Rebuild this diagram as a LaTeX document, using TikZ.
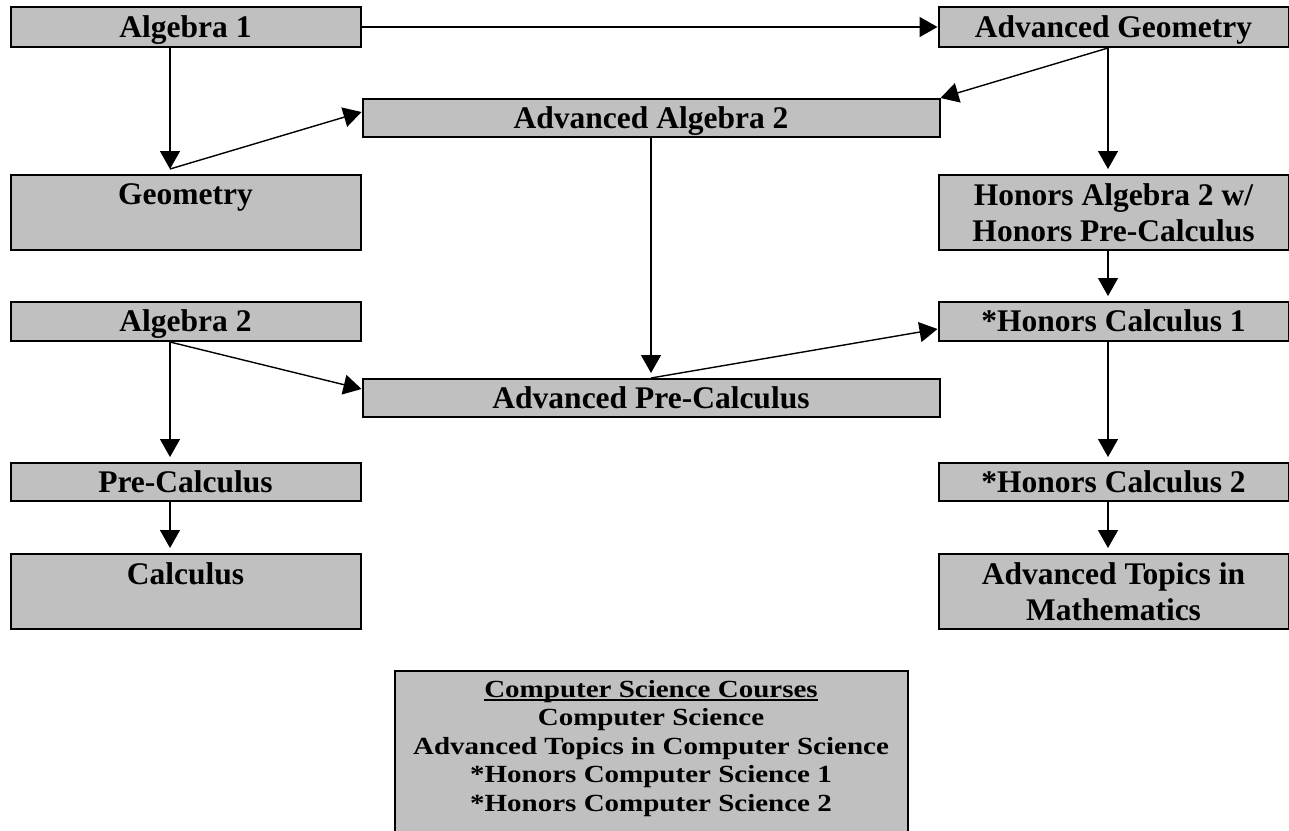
\documentclass[tikz,border=0pt]{standalone}
\usepackage{fontspec}
\setmainfont{Liberation Serif}
\usepackage{graphicx}
\usepackage{tikz}
\usetikzlibrary{shapes,arrows.meta,positioning}
\definecolor{boxgray}{RGB}{192,192,192}
\newcommand{\csline}[1]{\scalebox{1}[0.85]{#1}}
\newcommand{\csunder}[1]{\setbox0\hbox{#1}\rlap{\rule[-4pt]{\wd0}{1.8pt}}\box0}

\begin{document}
\begin{tikzpicture}[
			x=1pt, y=-1pt,
			box/.style={draw, line width=2pt, fill=boxgray, minimum width=350pt, inner sep=0pt, align=center, font=\fontsize{31.5}{36}\selectfont\bfseries},
			onerow/.style={box, minimum height=39pt, text height=28pt, text depth=8pt},
			tworow/.style={box, minimum height=75pt},
			wide/.style={minimum width=577pt},
			cstext/.style={inner sep=0pt, align=center, font=\fontsize{29}{28.5}\selectfont\bfseries},
			lx/.style={xshift=-15.5pt},
			rx/.style={xshift=-5.5pt},
			tipgap/.style={yshift=5pt},
			arrow/.style={-{Triangle[length=18pt,width=20pt]}, line width=1.4pt}
		]
		\useasboundingbox (0,0) rectangle (1289,830);

		% left column
		\node[onerow, minimum height=40pt] (alg1) at (185.5,27) {Algebra 1};
		\node[tworow, below=126pt of alg1] (geo) {Geometry\\\mbox{}};
		\node[onerow, below=50pt of geo] (alg2) {Algebra 2};
		\node[onerow, minimum height=38pt, below=120pt of alg2] (precalc) {Pre-Calculus};
		\node[tworow, below=51pt of precalc] (calc) {Calculus\\\mbox{}};

		% right column
		\node[onerow, minimum height=40pt, right=576pt of alg1] (ageo) {Advanced Geometry};
		\node[tworow, right=576pt of geo] (halg2) {Honors Algebra 2 w/\\Honors Pre-Calculus};
		\node[onerow, right=576pt of alg2] (hcalc1) {*Honors Calculus 1};
		\node[onerow, minimum height=38pt, right=576pt of precalc] (hcalc2) {*Honors Calculus 2};
		\node[tworow, right=576pt of calc] (atopics) {Advanced Topics in\\Mathematics};

		% middle
		\node[onerow, wide, minimum height=38pt, below right=50pt and 0pt of alg1] (aalg2) {Advanced Algebra 2};
		\node[onerow, wide, minimum height=38pt, below=240pt of aalg2] (apre) {Advanced Pre-Calculus};

		% computer science
		\node[draw, line width=2pt, fill=boxgray, minimum width=513pt, minimum height=175pt, below=252pt of apre] (cs) {};
		\node[cstext, below=10pt of cs.north] (cslist) {\csline{\csunder{Computer Science Courses}}\\
			\csline{Computer Science}\\
			\csline{Advanced Topics in Computer Science}\\
			\csline{*Honors Computer Science 1}\\
			\csline{*Honors Computer Science 2}};

		\draw[arrow] (alg1) -- (ageo);
		\draw[arrow] ([lx]alg1.south) -- ([lx,tipgap]geo.north);
		\draw[arrow] ([lx,tipgap]geo.north) -- ([yshift=6pt]aalg2.west);
		\draw[arrow] ([rx]ageo.south) -- (aalg2.north east);
		\draw[arrow] ([rx]ageo.south) -- ([rx,tipgap]halg2.north);
		\draw[arrow] (aalg2.south) -- ([tipgap]apre.north);
		\draw[arrow] (apre.north) -- ([yshift=-7.5pt]hcalc1.west);
		\draw[arrow] ([rx]halg2.south) -- ([rx,tipgap]hcalc1.north);
		\draw[arrow] ([lx]alg2.south) -- ([lx,tipgap]precalc.north);
		\draw[arrow] ([lx]alg2.south) -- ([yshift=9pt]apre.west);
		\draw[arrow] ([lx]precalc.south) -- ([lx,tipgap]calc.north);
		\draw[arrow] ([rx]hcalc1.south) -- ([rx,tipgap]hcalc2.north);
		\draw[arrow] ([rx]hcalc2.south) -- ([rx,tipgap]atopics.north);

	\end{tikzpicture}
\end{document}
